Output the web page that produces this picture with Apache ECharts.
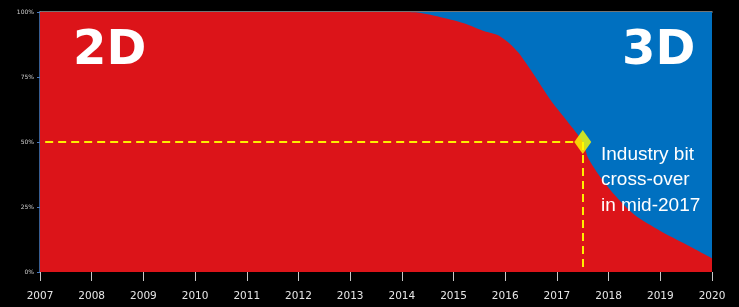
<!DOCTYPE html>
<html>
<head>
<meta charset="utf-8">
<script src="https://cdn.jsdelivr.net/npm/echarts@6/dist/echarts.min.js"></script>
<style>
html,body{margin:0;padding:0;background:#000;}
#chart{width:739px;height:307px;}
</style>
</head>
<body>
<div id="chart"></div>
<script>
// Years (x) and 2D share of industry bits (%)
var years = [2007, 2008, 2009, 2010, 2011, 2012, 2013, 2014, 2014.3, 2014.7, 2015.2, 2015.6, 2015.85, 2016.05, 2016.25, 2016.5, 2016.9, 2017.2, 2017.5, 2017.6, 2017.82, 2018.1, 2018.5, 2019.0, 2019.5, 2020];
var share2D = [100, 100, 100, 100, 100, 100, 100, 100, 99.8, 98.3, 95.7, 92.6, 91.2, 88.5, 84.5, 77.5, 65.5, 58, 50, 44, 37, 30, 22, 15.8, 10.6, 5.3];
// 2D + 3D = 100% of bits: the 3D region runs from the 2D edge up to this total
var totalShare = years.map(function () { return 100; });
var xTicks = [2007, 2008, 2009, 2010, 2011, 2012, 2013, 2014, 2015, 2016, 2017, 2018, 2019, 2020];
var yTicks = [0, 25, 50, 75, 100];
var crossover = [2017.5, 50];
var labels = { left: '2D', right: '3D', note: 'Industry bit\ncross-over\nin mid-2017' };

var chart = echarts.init(document.getElementById('chart'));
var d2 = years.map(function (y, i) { return [y, share2D[i]]; });
var dTot = years.map(function (y, i) { return [y, totalShare[i]]; });

chart.setOption({
  backgroundColor: '#000',
  animation: false,
  grid: { left: 40, right: 27, top: 12, bottom: 35 },
  xAxis: [{
    type: 'value', min: xTicks[0], max: xTicks[xTicks.length - 1], interval: 1,
    position: 'bottom', offset: 6,
    axisLine: { show: false },
    axisTick: { show: true, length: 9, lineStyle: { color: '#c8c8c8', width: 1 } },
    axisLabel: { color: '#e6e6e6', fontFamily: 'DejaVu Sans', fontSize: 10.5, margin: 13,
      formatter: function (v) { return xTicks.indexOf(v) >= 0 ? String(v) : ''; } },
    splitLine: { show: false }
  }, {
    type: 'value', min: xTicks[0], max: xTicks[xTicks.length - 1], position: 'top',
    axisLine: { show: true, lineStyle: { color: '#9a9a9a', width: 1.5 } },
    axisTick: { show: false }, axisLabel: { show: false }, splitLine: { show: false }
  }],
  yAxis: {
    type: 'value', min: 0, max: 100, interval: 25,
    axisLine: { show: true, lineStyle: { color: '#4a7cc0', width: 1.5 } },
    axisTick: { show: true, length: 3, lineStyle: { color: '#4a7cc0' } },
    axisLabel: { color: '#cfcfcf', fontFamily: 'DejaVu Sans', fontSize: 6, margin: 6,
      formatter: function (v) { return yTicks.indexOf(v) >= 0 ? v + '%' : ''; } },
    splitLine: { show: false }
  },
  series: [{
    name: '3D', type: 'line', data: dTot,
    symbol: 'none', lineStyle: { width: 0 },
    areaStyle: { color: '#0070c0', opacity: 1 }, z: 1
  }, {
    name: '2D', type: 'line', data: d2, smooth: 0.25,
    symbol: 'none', lineStyle: { width: 0 },
    areaStyle: { color: '#dc1419', opacity: 1 }, z: 2,
    markLine: {
      silent: true, symbol: 'none', animation: false,
      lineStyle: { color: '#ffee00', width: 2, type: [8, 5] },
      label: { show: false },
      data: [
        [{ coord: [2007.1, crossover[1]] }, { coord: [crossover[0] - 0.1, crossover[1]] }],
        [{ coord: [crossover[0], crossover[1]] }, { coord: [crossover[0], 0] }]
      ]
    }
  }, {
    name: 'cross', type: 'scatter', data: [crossover],
    symbol: 'diamond', symbolSize: [17, 24],
    itemStyle: { color: '#ffff00' }, z: 10
  }],
  graphic: [{
    type: 'text', left: 73, top: 28, z: 20,
    style: { text: labels.left, fill: '#fff', font: 'bold 48px "DejaVu Sans"' }
  }, {
    type: 'text', left: 622, top: 28, z: 20,
    style: { text: labels.right, fill: '#fff', font: 'bold 48px "DejaVu Sans"' }
  }, {
    type: 'text', left: 601, top: 142, z: 20,
    style: { text: labels.note, fill: '#fff', font: '19px "Liberation Sans"', lineHeight: 25.5 }
  }]
});
</script>
</body>
</html>
